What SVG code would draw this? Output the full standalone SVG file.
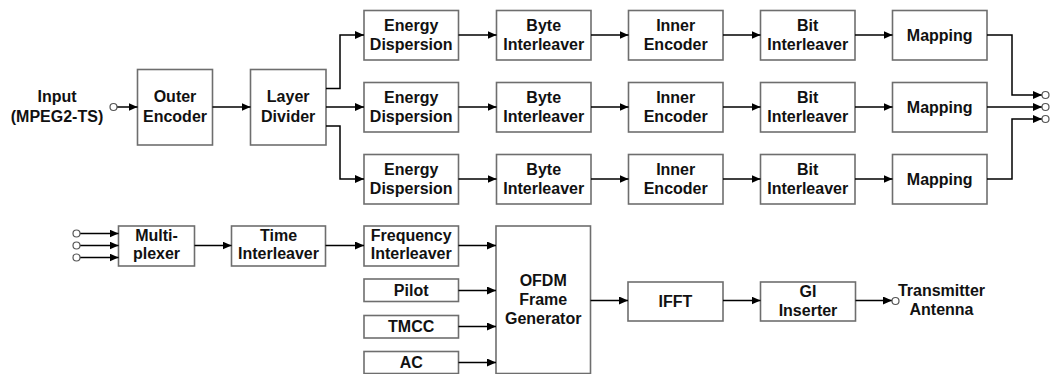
<svg xmlns="http://www.w3.org/2000/svg" width="1050" height="374" viewBox="0 0 1050 374">
  <style>
    .box { fill: #ffffff; stroke: #6e6e6e; stroke-width: 1.6; }
    .lbl { font-family: "Liberation Sans", Arial, sans-serif; font-size: 16px; font-weight: bold; fill: #111111; text-anchor: middle; }
    .wire { fill: none; stroke: #000000; stroke-width: 1.5; }
    .arr { marker-end: url(#head); }
    .port { fill: #ffffff; stroke: #555555; stroke-width: 1.2; }
  </style>
  <defs>
    <marker id="head" markerUnits="userSpaceOnUse" markerWidth="10" markerHeight="9" refX="9" refY="4" orient="auto">
      <path d="M0,0 L9,4 L0,8 z" fill="#000000"/>
    </marker>
  </defs>
  <rect width="1050" height="374" fill="#ffffff"/>

  <!-- input label -->
  <g id="input">
    <text class="lbl" x="57" y="101.7">Input</text>
    <text class="lbl" x="57" y="121.7">(MPEG2-TS)</text>
  </g>

  <g id="outer-encoder">
    <rect class="box" x="137.5" y="69.5" width="75" height="75.5"/>
    <text class="lbl" x="175" y="101.7">Outer</text>
    <text class="lbl" x="175" y="121.7">Encoder</text>
  </g>
  <g id="layer-divider">
    <rect class="box" x="250.5" y="69.5" width="75.5" height="75.5"/>
    <text class="lbl" x="288.2" y="101.7">Layer</text>
    <text class="lbl" x="288.2" y="121.7">Divider</text>
  </g>

  <!-- layer A -->
  <g id="energy-dispersion-a">
    <rect class="box" x="364" y="10.5" width="94.5" height="49.5"/>
    <text class="lbl" x="411.2" y="30.7">Energy</text>
    <text class="lbl" x="411.2" y="50.2">Dispersion</text>
  </g>
  <g id="byte-interleaver-a">
    <rect class="box" x="496.5" y="10.5" width="94.5" height="49.5"/>
    <text class="lbl" x="543.7" y="30.7">Byte</text>
    <text class="lbl" x="543.7" y="50.2">Interleaver</text>
  </g>
  <g id="inner-encoder-a">
    <rect class="box" x="628.5" y="10.5" width="94.5" height="49.5"/>
    <text class="lbl" x="675.7" y="30.7">Inner</text>
    <text class="lbl" x="675.7" y="50.2">Encoder</text>
  </g>
  <g id="bit-interleaver-a">
    <rect class="box" x="760.5" y="10.5" width="94.5" height="49.5"/>
    <text class="lbl" x="807.7" y="30.7">Bit</text>
    <text class="lbl" x="807.7" y="50.2">Interleaver</text>
  </g>
  <g id="mapping-a">
    <rect class="box" x="892.5" y="10.5" width="94.5" height="49.5"/>
    <text class="lbl" x="939.7" y="41">Mapping</text>
  </g>

  <!-- layer B -->
  <g id="energy-dispersion-b">
    <rect class="box" x="364" y="82.5" width="94.5" height="49.5"/>
    <text class="lbl" x="411.2" y="102.7">Energy</text>
    <text class="lbl" x="411.2" y="122.2">Dispersion</text>
  </g>
  <g id="byte-interleaver-b">
    <rect class="box" x="496.5" y="82.5" width="94.5" height="49.5"/>
    <text class="lbl" x="543.7" y="102.7">Byte</text>
    <text class="lbl" x="543.7" y="122.2">Interleaver</text>
  </g>
  <g id="inner-encoder-b">
    <rect class="box" x="628.5" y="82.5" width="94.5" height="49.5"/>
    <text class="lbl" x="675.7" y="102.7">Inner</text>
    <text class="lbl" x="675.7" y="122.2">Encoder</text>
  </g>
  <g id="bit-interleaver-b">
    <rect class="box" x="760.5" y="82.5" width="94.5" height="49.5"/>
    <text class="lbl" x="807.7" y="102.7">Bit</text>
    <text class="lbl" x="807.7" y="122.2">Interleaver</text>
  </g>
  <g id="mapping-b">
    <rect class="box" x="892.5" y="82.5" width="94.5" height="49.5"/>
    <text class="lbl" x="939.7" y="113">Mapping</text>
  </g>

  <!-- layer C -->
  <g id="energy-dispersion-c">
    <rect class="box" x="364" y="154.5" width="94.5" height="49.5"/>
    <text class="lbl" x="411.2" y="174.7">Energy</text>
    <text class="lbl" x="411.2" y="194.2">Dispersion</text>
  </g>
  <g id="byte-interleaver-c">
    <rect class="box" x="496.5" y="154.5" width="94.5" height="49.5"/>
    <text class="lbl" x="543.7" y="174.7">Byte</text>
    <text class="lbl" x="543.7" y="194.2">Interleaver</text>
  </g>
  <g id="inner-encoder-c">
    <rect class="box" x="628.5" y="154.5" width="94.5" height="49.5"/>
    <text class="lbl" x="675.7" y="174.7">Inner</text>
    <text class="lbl" x="675.7" y="194.2">Encoder</text>
  </g>
  <g id="bit-interleaver-c">
    <rect class="box" x="760.5" y="154.5" width="94.5" height="49.5"/>
    <text class="lbl" x="807.7" y="174.7">Bit</text>
    <text class="lbl" x="807.7" y="194.2">Interleaver</text>
  </g>
  <g id="mapping-c">
    <rect class="box" x="892.5" y="154.5" width="94.5" height="49.5"/>
    <text class="lbl" x="939.7" y="185">Mapping</text>
  </g>

  <!-- lower chain -->
  <g id="multiplexer">
    <rect class="box" x="118.5" y="226" width="76" height="40"/>
    <text class="lbl" x="156.5" y="240.7">Multi-</text>
    <text class="lbl" x="156.5" y="259.3">plexer</text>
  </g>
  <g id="time-interleaver">
    <rect class="box" x="231.5" y="226" width="94" height="40"/>
    <text class="lbl" x="278.5" y="240.7">Time</text>
    <text class="lbl" x="278.5" y="259.3">Interleaver</text>
  </g>
  <g id="frequency-interleaver">
    <rect class="box" x="364" y="226" width="94.5" height="40"/>
    <text class="lbl" x="411.2" y="240.7">Frequency</text>
    <text class="lbl" x="411.2" y="259.3">Interleaver</text>
  </g>
  <g id="pilot">
    <rect class="box" x="364" y="279" width="94.5" height="22.5"/>
    <text class="lbl" x="411.2" y="295.6">Pilot</text>
  </g>
  <g id="tmcc">
    <rect class="box" x="364" y="315.5" width="94.5" height="22.5"/>
    <text class="lbl" x="411.2" y="332.1">TMCC</text>
  </g>
  <g id="ac">
    <rect class="box" x="364" y="351.5" width="94.5" height="22"/>
    <text class="lbl" x="411.2" y="367.8">AC</text>
  </g>
  <g id="ofdm-frame-generator">
    <rect class="box" x="496" y="226" width="94.5" height="147.5"/>
    <text class="lbl" x="543.2" y="286">OFDM</text>
    <text class="lbl" x="543.2" y="305">Frame</text>
    <text class="lbl" x="543.2" y="324">Generator</text>
  </g>
  <g id="ifft">
    <rect class="box" x="628" y="282" width="95" height="39"/>
    <text class="lbl" x="675.5" y="306.7">IFFT</text>
  </g>
  <g id="gi-inserter">
    <rect class="box" x="760.5" y="282" width="95" height="39"/>
    <text class="lbl" x="808" y="297.3">GI</text>
    <text class="lbl" x="808" y="316">Inserter</text>
  </g>
  <g id="antenna">
    <text class="lbl" x="941.5" y="296">Transmitter</text>
    <text class="lbl" x="941.5" y="315.3">Antenna</text>
  </g>

  <g id="connectors">
    <!-- input to outer encoder -->
    <path class="wire arr" d="M117 107 H137.5"/>
    <path class="wire arr" d="M212.5 107 H250.5"/>
    <!-- layer divider fan-out -->
    <path class="wire arr" d="M326 88.5 H340 V35 H364"/>
    <path class="wire arr" d="M326 107 H364"/>
    <path class="wire arr" d="M326 126 H340 V179 H364"/>
    <!-- per-layer chains -->
    <path class="wire arr" d="M458.5 35 H496.5"/>
    <path class="wire arr" d="M591 35 H628.5"/>
    <path class="wire arr" d="M723 35 H760.5"/>
    <path class="wire arr" d="M855 35 H892.5"/>
    <path class="wire arr" d="M458.5 107 H496.5"/>
    <path class="wire arr" d="M591 107 H628.5"/>
    <path class="wire arr" d="M723 107 H760.5"/>
    <path class="wire arr" d="M855 107 H892.5"/>
    <path class="wire arr" d="M458.5 179 H496.5"/>
    <path class="wire arr" d="M591 179 H628.5"/>
    <path class="wire arr" d="M723 179 H760.5"/>
    <path class="wire arr" d="M855 179 H892.5"/>
    <!-- mapping outputs -->
    <path class="wire arr" d="M987 35 H1012 V95 H1042"/>
    <path class="wire arr" d="M987 107 H1042"/>
    <path class="wire arr" d="M987 179 H1012 V119 H1042"/>
    <!-- multiplexer inputs -->
    <path class="wire arr" d="M80 233.5 H118.5"/>
    <path class="wire arr" d="M80 245.5 H118.5"/>
    <path class="wire arr" d="M80 257.5 H118.5"/>
    <!-- lower chain -->
    <path class="wire arr" d="M194.5 245.5 H231.5"/>
    <path class="wire arr" d="M325.5 245.5 H364"/>
    <path class="wire arr" d="M458.5 245.5 H496"/>
    <path class="wire arr" d="M458.5 290.5 H496"/>
    <path class="wire arr" d="M458.5 326.5 H496"/>
    <path class="wire arr" d="M458.5 362.5 H496"/>
    <path class="wire arr" d="M590.5 300.5 H628"/>
    <path class="wire arr" d="M723 300.5 H760.5"/>
    <path class="wire arr" d="M855.5 300.5 H892"/>
    <!-- terminals -->
    <circle class="port" cx="113.5" cy="107" r="3.5"/>
    <circle class="port" cx="1045.5" cy="95" r="3.5"/>
    <circle class="port" cx="1045.5" cy="107" r="3.5"/>
    <circle class="port" cx="1045.5" cy="119" r="3.5"/>
    <circle class="port" cx="76.5" cy="233.5" r="3.5"/>
    <circle class="port" cx="76.5" cy="245.5" r="3.5"/>
    <circle class="port" cx="76.5" cy="257.5" r="3.5"/>
    <circle class="port" cx="895.5" cy="301" r="3.5"/>
  </g>
</svg>
